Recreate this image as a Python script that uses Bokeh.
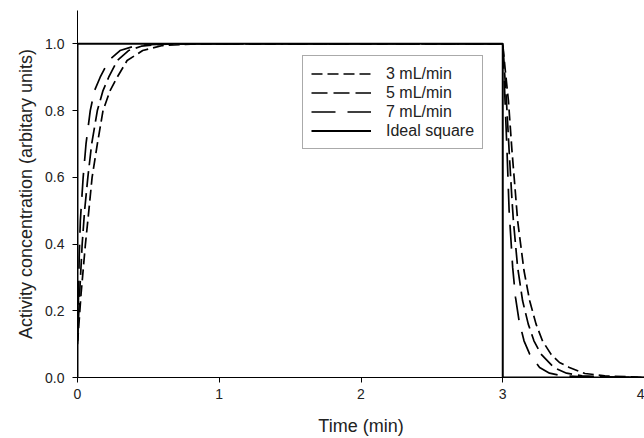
from bokeh.plotting import figure
from bokeh.models import Range1d, Legend, LegendItem, FixedTicker, CustomJSTickFormatter
from bokeh.embed import file_html
from bokeh.resources import INLINE

# ---- data ----
t_fast = [0, 0.006, 0.012, 0.02, 0.04, 0.06, 0.09, 0.12, 0.16, 0.22, 0.3, 0.4, 0.5, 0.7, 1.0, 2.0, 3.0,
          3.008, 3.016, 3.03, 3.04, 3.045, 3.07, 3.09, 3.115, 3.15, 3.19, 3.26, 3.33, 3.42, 3.6, 4.0]
y_fast = [0.11, 0.22, 0.36, 0.47, 0.6, 0.7, 0.8, 0.86, 0.9, 0.95, 0.98, 0.993, 0.998, 1.0, 1.0, 1.0, 1.0,
          0.92, 0.83, 0.68, 0.56, 0.5, 0.33, 0.24, 0.17, 0.11, 0.07, 0.03, 0.013, 0.005, 0.001, 0.0]

t_mid = [0, 0.015, 0.033, 0.05, 0.073, 0.1, 0.14, 0.18, 0.22, 0.28, 0.36, 0.45, 0.6, 0.8, 1.0, 2.0, 3.0,
         3.012, 3.026, 3.045, 3.064, 3.075, 3.105, 3.14, 3.18, 3.22, 3.27, 3.36, 3.45, 3.56, 3.8, 4.0]
y_mid = [0.11, 0.25, 0.4, 0.5, 0.6, 0.7, 0.8, 0.86, 0.9, 0.95, 0.98, 0.993, 0.999, 1.0, 1.0, 1.0, 1.0,
         0.92, 0.83, 0.68, 0.54, 0.47, 0.33, 0.23, 0.16, 0.11, 0.07, 0.03, 0.013, 0.005, 0.001, 0.0]

t_slow = [0, 0.025, 0.056, 0.08, 0.103, 0.14, 0.18, 0.23, 0.28, 0.35, 0.46, 0.6, 0.8, 1.0, 2.0, 3.0,
          3.018, 3.04, 3.065, 3.09, 3.105, 3.15, 3.19, 3.235, 3.28, 3.34, 3.4, 3.47, 3.58, 3.72, 3.95, 4.0]
y_slow = [0.1, 0.25, 0.4, 0.5, 0.6, 0.7, 0.8, 0.86, 0.9, 0.95, 0.98, 0.995, 0.999, 1.0, 1.0, 1.0,
          0.92, 0.83, 0.68, 0.55, 0.47, 0.32, 0.23, 0.16, 0.11, 0.07, 0.045, 0.03, 0.012, 0.005, 0.001, 0.0]

t_ideal = [0, 0, 3, 3, 4.0]
y_ideal = [0, 1, 1, 0, 0]

x_ticks = [0, 1, 2, 3, 4]
y_ticks = [0.0, 0.2, 0.4, 0.6, 0.8, 1.0]
series_labels = ["3 mL/min", "5 mL/min", "7 mL/min", "Ideal square"]

FONT = "Liberation Sans"
TXT = "#222222"

p = figure(width=644, height=438, output_backend="svg", toolbar_location=None,
           x_range=Range1d(0, 4.0), y_range=Range1d(0, 1.1),
           min_border_left=77, min_border_right=0, min_border_top=10, min_border_bottom=61)
p.outline_line_color = None
p.grid.visible = False
p.background_fill_color = "white"

r_slow = p.line(t_slow, y_slow, line_color="black", line_width=1.7, line_dash="11 5")
r_mid = p.line(t_mid, y_mid, line_color="black", line_width=1.7, line_dash="16 6")
r_fast = p.line(t_fast, y_fast, line_color="black", line_width=1.7, line_dash="24 12")
r_ideal = p.line(t_ideal, y_ideal, line_color="black", line_width=2)

for ax in (p.xaxis[0], p.yaxis[0]):
    ax.axis_line_color = "black"
    ax.major_tick_line_color = "black"
    ax.major_tick_out = 5
    ax.major_tick_in = 0
    ax.minor_tick_line_color = None
    ax.major_label_text_font = FONT
    ax.major_label_text_font_size = "14px"
    ax.major_label_text_color = TXT
    ax.axis_label_text_font = FONT
    ax.axis_label_text_font_size = "18px"
    ax.axis_label_text_font_style = "normal"
    ax.axis_label_text_color = TXT

p.xaxis[0].ticker = FixedTicker(ticks=x_ticks)
p.yaxis[0].ticker = FixedTicker(ticks=y_ticks)
p.yaxis[0].formatter = CustomJSTickFormatter(code="return tick.toFixed(1);")
p.xaxis[0].major_label_standoff = 6
p.yaxis[0].major_label_standoff = 8
p.xaxis.axis_label = "Time (min)"
p.yaxis.axis_label = "Activity concentration (arbitary units)"
p.xaxis.axis_label_standoff = 14
p.yaxis.axis_label_standoff = 6

legend = Legend(items=[LegendItem(label=series_labels[0], renderers=[r_slow]),
                       LegendItem(label=series_labels[1], renderers=[r_mid]),
                       LegendItem(label=series_labels[2], renderers=[r_fast]),
                       LegendItem(label=series_labels[3], renderers=[r_ideal])],
                location=(225, 228), orientation="vertical")
legend.border_line_color = "#555555"
legend.border_line_width = 1
legend.background_fill_alpha = 1
legend.padding = 8
legend.margin = 0
legend.spacing = 0
legend.glyph_width = 60
legend.glyph_height = 19
legend.label_height = 19
legend.label_width = 88
legend.label_standoff = 15
legend.label_text_font = FONT
legend.label_text_font_size = "16px"
legend.label_text_color = TXT
p.add_layout(legend, "center")

open("out.html", "w").write(file_html(p, INLINE))
